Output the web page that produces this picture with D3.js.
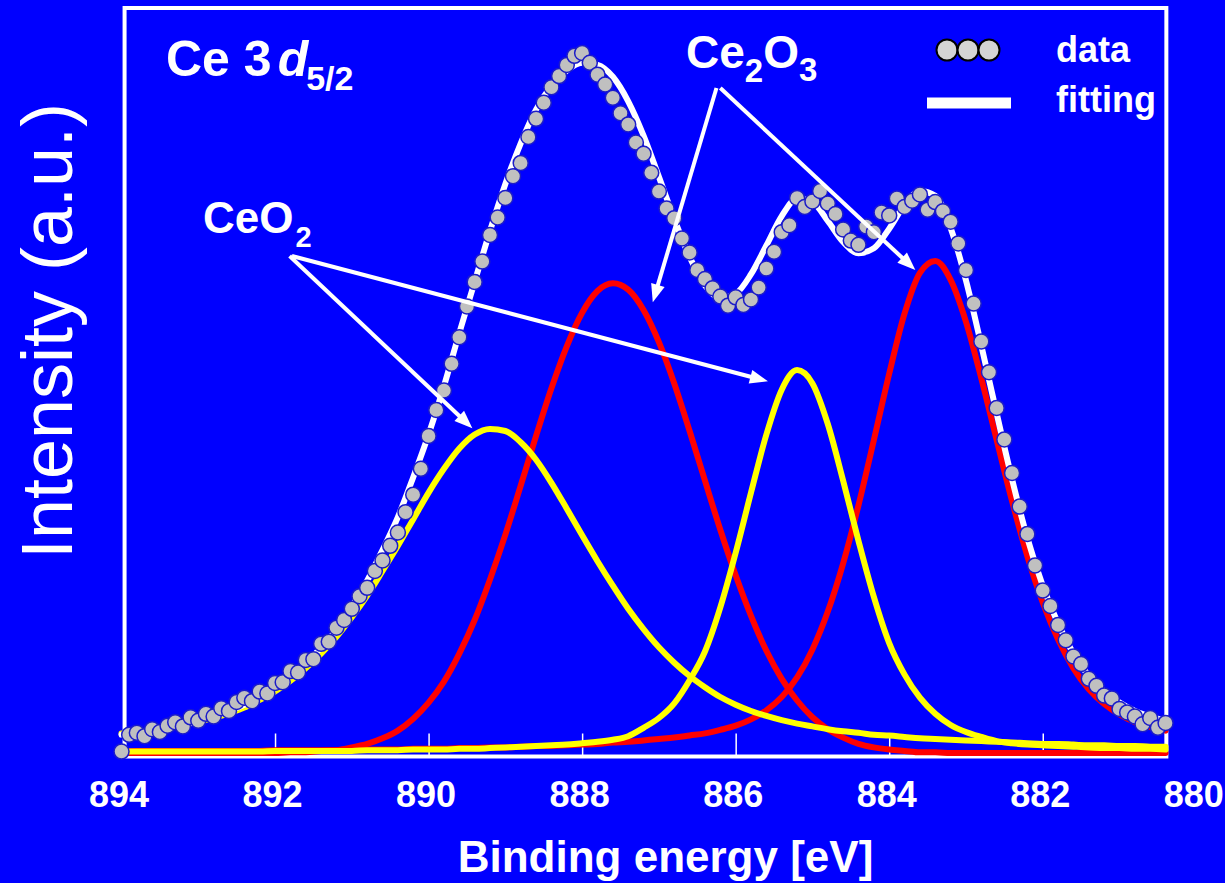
<!DOCTYPE html>
<html>
<head>
<meta charset="utf-8">
<script src="https://cdn.jsdelivr.net/npm/d3@7"></script>
<style>
  html, body { margin: 0; padding: 0; background: #0000ff; }
  svg { display: block; }
</style>
</head>
<body>
<svg id="chart" width="1225" height="883"></svg>
<script>
// Ce 3d5/2 XPS spectrum: measured points, total fit and the four fitted components

// measured spectrum (binding energy, eV / intensity, a.u.)
const dataEnergy = [
  894.0, 893.9, 893.8, 893.7, 893.6, 893.5, 893.4, 893.3, 893.2, 893.1, 893.0,
  892.9, 892.8, 892.7, 892.6, 892.5, 892.4, 892.3, 892.2, 892.1, 892.0,
  891.9, 891.8, 891.7, 891.6, 891.5, 891.4, 891.3, 891.2, 891.1, 891.0,
  890.9, 890.8, 890.7, 890.6, 890.5, 890.4, 890.3, 890.2, 890.1, 890.0,
  889.9, 889.8, 889.7, 889.6, 889.5, 889.4, 889.3, 889.2, 889.1, 889.0,
  888.9, 888.8, 888.7, 888.6, 888.5, 888.4, 888.3, 888.2, 888.1, 888.0,
  887.9, 887.8, 887.7, 887.6, 887.5, 887.4, 887.3, 887.2, 887.1, 887.0,
  886.9, 886.8, 886.7, 886.6, 886.5, 886.4, 886.3, 886.2, 886.1, 886.0,
  885.9, 885.8, 885.7, 885.6, 885.5, 885.4, 885.3, 885.2, 885.1, 885.0,
  884.9, 884.8, 884.7, 884.6, 884.5, 884.4, 884.3, 884.2, 884.1, 884.0,
  883.9, 883.8, 883.7, 883.6, 883.5, 883.4, 883.3, 883.2, 883.1, 883.0,
  882.9, 882.8, 882.7, 882.6, 882.5, 882.4, 882.3, 882.2, 882.1, 882.0,
  881.9, 881.8, 881.7, 881.6, 881.5, 881.4, 881.3, 881.2, 881.1, 881.0,
  880.9, 880.8, 880.7, 880.6, 880.5, 880.4
];
const dataIntensity = [
  0.2, 2.6, 2.9, 2.4, 3.4, 3.0, 3.9, 4.4, 3.8, 5.1, 4.6,
  5.6, 5.2, 6.4, 6.0, 7.3, 7.9, 7.4, 8.8, 8.5, 10.0,
  10.1, 11.7, 11.5, 13.3, 13.4, 15.6, 15.9, 17.9, 19.0, 20.6,
  22.4, 23.6, 26.0, 27.5, 29.6, 31.5, 34.4, 36.9, 40.6, 45.3,
  49.0, 51.8, 55.6, 59.4, 63.8, 67.3, 70.2, 74.0, 76.5, 79.3,
  82.4, 84.3, 88.0, 90.6, 92.9, 95.1, 96.7, 98.3, 99.6, 100.0,
  98.6, 96.9, 95.5, 93.6, 91.4, 89.8, 87.2, 85.6, 82.9, 80.2,
  77.8, 76.4, 73.5, 71.5, 69.0, 67.7, 66.4, 65.2, 63.9, 65.1,
  64.0, 64.8, 66.5, 69.2, 71.6, 74.4, 75.4, 79.3, 78.0, 78.8,
  80.3, 78.5, 77.0, 74.8, 73.2, 72.6, 75.2, 74.4, 77.2, 76.8,
  79.2, 78.0, 78.9, 79.8, 77.6, 78.7, 77.4, 75.9, 72.8, 69.0,
  64.2, 58.8, 54.4, 49.3, 44.8, 40.0, 35.2, 31.3, 26.8, 23.2,
  21.0, 18.3, 16.1, 13.8, 12.7, 10.6, 9.6, 8.2, 7.8, 6.3,
  5.8, 5.2, 4.1, 5.0, 3.6, 4.3
];

// energy grid of the fitted curves
const fitEnergy = [
  894.0, 893.8, 893.6, 893.4, 893.2, 893.0, 892.8, 892.6, 892.4, 892.2,
  892.0, 891.8, 891.6, 891.4, 891.2, 891.0, 890.8, 890.6, 890.4, 890.2,
  890.0, 889.8, 889.6, 889.4, 889.2, 889.0, 888.8, 888.6, 888.4, 888.2,
  888.0, 887.8, 887.6, 887.4, 887.2, 887.0, 886.8, 886.6, 886.4, 886.2,
  886.0, 885.8, 885.6, 885.4, 885.2, 885.0, 884.8, 884.6, 884.4, 884.2,
  884.0, 883.8, 883.6, 883.4, 883.2, 883.0, 882.8, 882.6, 882.4, 882.2,
  882.0, 881.8, 881.6, 881.4, 881.2, 881.0, 880.8, 880.6, 880.4
];
// total fit
const fitTotal = [
  2.6, 2.9, 3.2, 3.6, 4.0, 4.6, 5.2, 6.0, 6.9, 8.0,
  9.3, 11.0, 12.8, 15.1, 17.6, 20.9, 24.6, 29.0, 33.7, 39.4,
  45.5, 52.4, 60.0, 67.3, 74.6, 81.3, 87.1, 91.9, 95.3, 97.5,
  98.6, 98.3, 96.6, 93.1, 88.2, 82.3, 76.3, 70.9, 66.8, 65.0,
  65.6, 68.4, 72.5, 76.7, 79.2, 78.7, 76.0, 73.0, 71.4, 72.1,
  74.9, 78.3, 80.3, 79.6, 75.0, 67.5, 58.2, 48.5, 39.1, 30.7,
  23.9, 18.5, 14.2, 11.0, 8.8, 7.2, 6.0, 5.2, 4.6
];
// Ce2O3 components (red)
const ce2o3High = [
  0, 0, 0, 0, 0, 0, 0, 0, 0, 0,
  0, 0.1, 0.1, 0.3, 0.4, 0.8, 1.3, 2.1, 3.2, 4.9,
  7.2, 10.2, 14.2, 19.0, 24.8, 31.2, 38.2, 45.3, 52.1, 58.1,
  62.9, 66.0, 67.1, 66.2, 63.3, 58.7, 52.8, 46.0, 38.9, 31.9,
  25.4, 19.6, 14.6, 10.6, 7.5, 5.1, 3.4, 2.2, 1.3, 0.8,
  0.5, 0.3, 0.1, 0.1, 0, 0, 0, 0, 0, 0,
  0, 0, 0, 0, 0, 0, 0, 0, 0
];
const ce2o3Low = [
  0.2, 0.3, 0.3, 0.3, 0.3, 0.3, 0.3, 0.3, 0.3, 0.3,
  0.4, 0.4, 0.4, 0.4, 0.4, 0.5, 0.5, 0.5, 0.5, 0.6,
  0.6, 0.6, 0.7, 0.7, 0.8, 0.8, 0.9, 1.0, 1.0, 1.1,
  1.2, 1.3, 1.5, 1.6, 1.8, 2.0, 2.2, 2.5, 2.8, 3.3,
  3.9, 4.8, 6.1, 8.0, 10.8, 14.8, 20.2, 27.1, 35.4, 44.7,
  54.2, 62.8, 68.6, 70.3, 67.6, 61.6, 53.5, 44.7, 36.0, 28.1,
  21.5, 16.2, 12.1, 9.1, 7.0, 5.5, 4.4, 3.7, 3.2
];
// CeO2 components (yellow)
const ceo2High = [
  2.8, 3.0, 3.3, 3.6, 4.0, 4.5, 5.0, 5.7, 6.5, 7.6,
  8.8, 10.3, 12.1, 14.2, 16.6, 19.4, 22.5, 26.0, 29.6, 33.4,
  37.2, 40.6, 43.5, 45.5, 46.3, 46.0, 44.4, 41.9, 38.6, 34.9,
  31.1, 27.4, 23.9, 20.6, 17.7, 15.1, 12.9, 11.0, 9.4, 8.0,
  6.9, 6.0, 5.3, 4.7, 4.2, 3.8, 3.4, 3.1, 2.9, 2.6,
  2.5, 2.3, 2.1, 2.0, 1.9, 1.8, 1.7, 1.6, 1.5, 1.4,
  1.3, 1.3, 1.2, 1.1, 1.1, 1.0, 1.0, 0.9, 0.9
];
const ceo2Low = [
  0.2, 0.2, 0.2, 0.2, 0.2, 0.2, 0.2, 0.2, 0.2, 0.2,
  0.3, 0.3, 0.3, 0.3, 0.3, 0.3, 0.4, 0.4, 0.4, 0.5,
  0.5, 0.5, 0.6, 0.6, 0.7, 0.8, 0.9, 1.0, 1.1, 1.2,
  1.4, 1.6, 1.9, 2.4, 3.6, 5.0, 7.1, 10.4, 14.5, 20.8,
  28.6, 37.2, 45.5, 51.9, 54.7, 52.8, 47.0, 38.9, 30.3, 22.3,
  15.7, 11.2, 7.9, 5.6, 4.0, 3.0, 2.3, 1.7, 1.4, 1.2,
  1.1, 1.0, 0.9, 0.8, 0.7, 0.7, 0.6, 0.6, 0.5
];

const xTicks = [894, 892, 890, 888, 886, 884, 882, 880];

// annotation arrows: label anchor -> peak (energy, intensity)
const ceo2Arrows = [
  { from: [891.81, 71.0], to: [889.43, 46.4] },
  { from: [891.78, 71.0], to: [885.58, 53.1] }
];
const ce2o3Arrows = [
  { from: [886.25, 95.0], to: [887.08, 64.4] },
  { from: [886.20, 95.0], to: [883.66, 69.0] }
];

const FONT = "'Liberation Sans', Arial, Helvetica, sans-serif";
const W = 1225, H = 883;

const svg = d3.select("#chart");
svg.append("rect").attr("width", W).attr("height", H).attr("fill", "#0000ff");

const x = d3.scaleLinear().domain([894, 880]).range([121.5, 1196.3]);
const y = d3.scaleLinear().domain([0, 100]).range([753, 53]);

const frameLeft = x(893.96), frameRight = x(880.39);
const frameTop = 8, frameBottom = 756.5;

// plot frame
svg.append("rect")
  .attr("x", frameLeft).attr("y", frameTop)
  .attr("width", frameRight - frameLeft).attr("height", frameBottom - frameTop)
  .attr("fill", "none").attr("stroke", "#ffffff").attr("stroke-width", 4);

// x axis with inward ticks
const xAxis = d3.axisBottom(x)
  .tickValues(xTicks)
  .tickFormat(d3.format("d"))
  .tickSizeInner(-23)
  .tickSizeOuter(0)
  .tickPadding(25);
const gx = svg.append("g").attr("transform", `translate(0,${frameBottom})`).call(xAxis);
gx.select(".domain").remove();
gx.selectAll(".tick line")
  .attr("stroke", "#ffffff").attr("stroke-width", 1.5)
  .filter(d => d === 894 || d === 880).remove();
gx.selectAll(".tick text")
  .attr("x", -3)
  .attr("fill", "#ffffff")
  .style("font-family", FONT).style("font-size", "36px").style("font-weight", "bold");

// axis titles
svg.append("text")
  .attr("x", 665.5).attr("y", 872)
  .attr("text-anchor", "middle").attr("fill", "#ffffff")
  .style("font-family", FONT).style("font-size", "44px").style("font-weight", "bold")
  .text("Binding energy [eV]");
svg.append("text")
  .attr("transform", "translate(72,331) rotate(-90)")
  .attr("text-anchor", "middle").attr("fill", "#ffffff")
  .style("font-family", FONT).style("font-size", "72px")
  .text("Intensity (a.u.)");

// curves
const line = d3.line()
  .x((d, i) => x(fitEnergy[i]))
  .y(d => y(d))
  .curve(d3.curveMonotoneX);

const curves = svg.append("g").attr("fill", "none")
  .attr("stroke-linejoin", "round").attr("stroke-linecap", "round");
[ce2o3High, ce2o3Low].forEach(s =>
  curves.append("path").attr("d", line(s)).attr("stroke", "#ff0000").attr("stroke-width", 6));
[ceo2High, ceo2Low].forEach(s =>
  curves.append("path").attr("d", line(s)).attr("stroke", "#ffff00").attr("stroke-width", 6));
curves.append("path").attr("d", line(fitTotal)).attr("stroke", "#ffffff").attr("stroke-width", 6);

// measured points
svg.append("g").selectAll("circle")
  .data(dataIntensity)
  .join("circle")
  .attr("cx", (d, i) => x(dataEnergy[i]))
  .attr("cy", d => y(d))
  .attr("r", 7.5)
  .attr("fill", "#c0c0c0")
  .attr("stroke", "#1c1cc8")
  .attr("stroke-width", 1.5);

// arrows
function arrow(g, a) {
  const x0 = x(a.from[0]), y0 = y(a.from[1]);
  const x1 = x(a.to[0]), y1 = y(a.to[1]);
  const dx = x1 - x0, dy = y1 - y0, len = Math.hypot(dx, dy);
  const ux = dx / len, uy = dy / len;
  const headLen = 18, headHalf = 7;
  const bx = x1 - ux * headLen, by = y1 - uy * headLen;
  g.append("line")
    .attr("x1", x0).attr("y1", y0)
    .attr("x2", x1 - ux * (headLen - 2)).attr("y2", y1 - uy * (headLen - 2))
    .attr("stroke", "#ffffff").attr("stroke-width", 4);
  g.append("path")
    .attr("d", `M${x1},${y1}L${bx - uy * headHalf},${by + ux * headHalf}L${bx + uy * headHalf},${by - ux * headHalf}Z`)
    .attr("fill", "#ffffff");
}
const arrows = svg.append("g");
ceo2Arrows.concat(ce2o3Arrows).forEach(a => arrow(arrows, a));

// labels
const textStyle = sel => sel.attr("fill", "#ffffff")
  .style("font-family", FONT).style("font-weight", "bold");

const title = svg.append("text").attr("x", 166).attr("y", 76).call(textStyle).style("font-size", "50px");
title.append("tspan").text("Ce 3");
title.append("tspan").attr("dx", 6).style("font-style", "italic").text("d");
title.append("tspan").attr("dx", -2).attr("dy", 14).style("font-size", "34px").text("5/2");

const ceo2Label = svg.append("text").attr("x", 203).attr("y", 233).call(textStyle).style("font-size", "44px");
ceo2Label.append("tspan").text("CeO");
ceo2Label.append("tspan").attr("dx", 2).attr("dy", 14).style("font-size", "29px").text("2");

const ce2o3Label = svg.append("text").attr("x", 686).attr("y", 68).call(textStyle).style("font-size", "46px");
ce2o3Label.append("tspan").text("Ce");
ce2o3Label.append("tspan").attr("dy", 14).style("font-size", "33px").text("2");
ce2o3Label.append("tspan").attr("dy", -14).text("O");
ce2o3Label.append("tspan").attr("dy", 13).style("font-size", "33px").text("3");

// legend
const legend = svg.append("g");
[947, 968, 989].forEach(cx =>
  legend.append("circle").attr("cx", cx).attr("cy", 50).attr("r", 10.5)
    .attr("fill", "#d4d4d4").attr("stroke", "#000000").attr("stroke-width", 2));
legend.append("line").attr("x1", 927).attr("x2", 1011).attr("y1", 103).attr("y2", 103)
  .attr("stroke", "#ffffff").attr("stroke-width", 11);
legend.append("text").attr("x", 1056).attr("y", 62).call(textStyle).style("font-size", "36px").text("data");
legend.append("text").attr("x", 1056).attr("y", 112).call(textStyle).style("font-size", "36px").text("fitting");
</script>
</body>
</html>
